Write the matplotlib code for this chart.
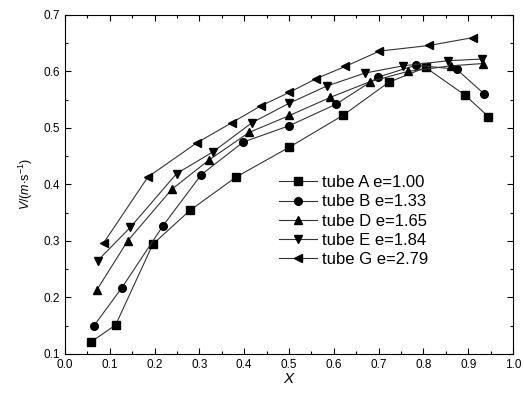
import matplotlib
matplotlib.use('Agg')
import matplotlib.pyplot as plt
from matplotlib.ticker import MultipleLocator

plt.rcParams.update({
    'font.family': 'Liberation Sans', 'font.size': 8,
    'mathtext.fontset': 'custom', 'mathtext.rm': 'Liberation Sans',
    'mathtext.it': 'Liberation Sans:italic',
})

# tube A e=1.00
xa = [0.058, 0.113, 0.196, 0.279, 0.382, 0.501, 0.620, 0.723, 0.805, 0.893, 0.945]
va = [0.121, 0.151, 0.294, 0.354, 0.413, 0.466, 0.522, 0.581, 0.607, 0.558, 0.520]
# tube B e=1.33
xb = [0.065, 0.127, 0.219, 0.304, 0.398, 0.501, 0.605, 0.699, 0.783, 0.874, 0.936]
vb = [0.150, 0.217, 0.327, 0.417, 0.475, 0.504, 0.542, 0.590, 0.611, 0.604, 0.560]
# tube D e=1.65
xd = [0.071, 0.140, 0.238, 0.321, 0.411, 0.501, 0.592, 0.681, 0.765, 0.862, 0.932]
vd = [0.213, 0.300, 0.391, 0.443, 0.492, 0.522, 0.554, 0.582, 0.600, 0.610, 0.614]
# tube E e=1.84
xe = [0.073, 0.146, 0.249, 0.331, 0.417, 0.501, 0.584, 0.669, 0.755, 0.856, 0.930]
ve = [0.265, 0.324, 0.419, 0.458, 0.509, 0.544, 0.574, 0.597, 0.610, 0.619, 0.622]
# tube G e=2.79
xg = [0.086, 0.185, 0.295, 0.372, 0.437, 0.501, 0.560, 0.626, 0.702, 0.813, 0.911]
vg = [0.296, 0.413, 0.474, 0.509, 0.539, 0.563, 0.587, 0.609, 0.636, 0.646, 0.660]

series = [
    (xa, va, 's', 'tube A e=1.00'),
    (xb, vb, 'o', 'tube B e=1.33'),
    (xd, vd, '^', 'tube D e=1.65'),
    (xe, ve, 'v', 'tube E e=1.84'),
    (xg, vg, '<', 'tube G e=2.79'),
]

fig = plt.figure(figsize=(5.24, 3.94), dpi=100)
ax = fig.add_axes([0.124, 0.102, 0.855, 0.860])

for x, v, mk, lab in series:
    ax.plot(x, v, marker=mk, color='#333333', lw=0.8, markersize=5.5,
            markerfacecolor='black', markeredgecolor='black', label=lab)

ax.set_xlim(0, 1.0)
ax.set_ylim(0.1, 0.7)
ax.xaxis.set_major_locator(MultipleLocator(0.1))
ax.xaxis.set_minor_locator(MultipleLocator(0.05))
ax.yaxis.set_major_locator(MultipleLocator(0.1))
ax.yaxis.set_minor_locator(MultipleLocator(0.05))
ax.tick_params(which='both', direction='in', top=True, right=True,
               labelsize=8.5, width=0.8)
ax.tick_params(which='major', length=4)
ax.tick_params(which='minor', length=2)
for s in ax.spines.values():
    s.set_linewidth(0.8)

ax.set_xlabel(r'$\mathit{X}$', fontsize=11, labelpad=1)
ax.set_ylabel(r'$\mathit{V}$/($\mathit{m}$$\cdot$s$^{-1}$)', fontsize=9, labelpad=6)

ax.legend(loc='upper left', bbox_to_anchor=(0.477, 0.527), frameon=False,
          fontsize=12, labelspacing=0.25, handlelength=2.3, handletextpad=0.3,
          borderpad=0, borderaxespad=0)

fig.savefig('out.png', dpi=100)
